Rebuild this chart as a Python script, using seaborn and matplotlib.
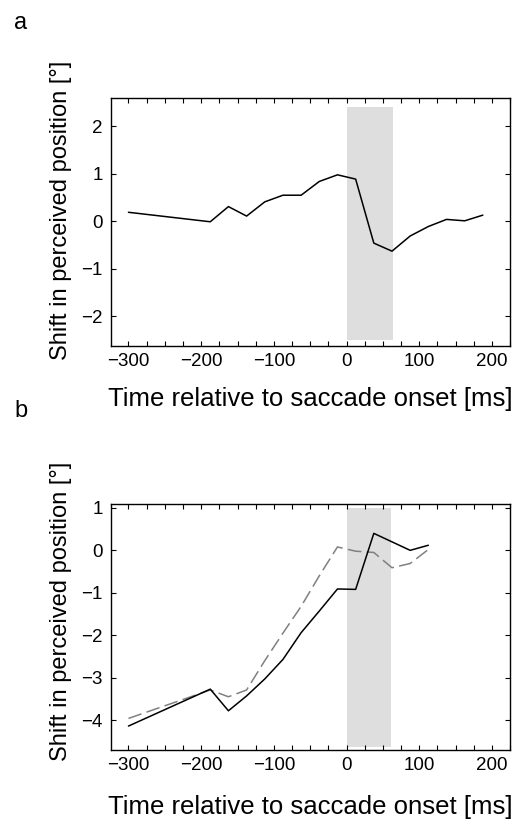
import numpy as np
import pandas as pd
import matplotlib
matplotlib.use("Agg")
import matplotlib.pyplot as plt
import seaborn as sns
from matplotlib.ticker import MultipleLocator

# ---- data ----
time_a = [-300, -187.5, -162.5, -137.5, -112.5, -87.5, -62.5, -37.5, -12.5,
          12.5, 37.5, 62.5, 87.5, 112.5, 137.5, 162.5, 187.5]
shift_a = [0.19, -0.01, 0.31, 0.11, 0.41, 0.55, 0.55, 0.84, 0.98,
           0.89, -0.46, -0.63, -0.31, -0.11, 0.04, 0.01, 0.13]

time_b = [-300, -187.5, -162.5, -137.5, -112.5, -87.5, -62.5, -37.5, -12.5,
          12.5, 37.5, 62.5, 87.5, 112.5]
shift_b_solid = [-4.14, -3.27, -3.78, -3.43, -3.03, -2.57, -1.94, -1.43, -0.91,
                 -0.92, 0.40, 0.20, 0.00, 0.12]
shift_b_dashed = [-3.96, -3.29, -3.45, -3.29, -2.60, -1.95, -1.32, -0.60, 0.08,
                  -0.02, -0.05, -0.41, -0.31, 0.02]

xticks = [-300, -200, -100, 0, 100, 200]
yticks_a = [-2, -1, 0, 1, 2]
yticks_b = [-4, -3, -2, -1, 0, 1]
xlabel = "Time relative to saccade onset [ms]"
ylabel = "Shift in perceived position [°]"

sns.set_style("white")
plt.rcParams['font.family'] = ['Liberation Sans', 'DejaVu Sans']
plt.rcParams['text.color'] = 'black'
plt.rcParams['axes.labelcolor'] = 'black'
plt.rcParams['xtick.color'] = 'black'
plt.rcParams['ytick.color'] = 'black'

fig = plt.figure(figsize=(5.2, 8.25), dpi=100)
ax_a = fig.add_axes([0.2135, 0.5806, 0.7675, 0.3006])
ax_b = fig.add_axes([0.2135, 0.0906, 0.7675, 0.2984])

df_a = pd.DataFrame({"t": time_a, "s": shift_a})
df_b1 = pd.DataFrame({"t": time_b, "s": shift_b_solid})
df_b2 = pd.DataFrame({"t": time_b, "s": shift_b_dashed})

# panel a
ax_a.fill_between([0, 64], -2.5, 2.4, color="#dedede", lw=0, zorder=0)
sns.lineplot(data=df_a, x="t", y="s", ax=ax_a, color="black", lw=1.1,
             estimator=None, sort=False)
ax_a.set_xlim(-324, 225)
ax_a.set_ylim(-2.63, 2.6)
ax_a.set_yticks(yticks_a)

# panel b
ax_b.fill_between([0, 61], -4.63, 1.0, color="#dedede", lw=0, zorder=0)
sns.lineplot(data=df_b2, x="t", y="s", ax=ax_b, color="#808080", lw=1.1,
             estimator=None, sort=False, dashes=False)
ax_b.lines[-1].set_dashes([9, 3.5])
sns.lineplot(data=df_b1, x="t", y="s", ax=ax_b, color="black", lw=1.1,
             estimator=None, sort=False)
ax_b.set_xlim(-324, 225)
ax_b.set_ylim(-4.71, 1.09)
ax_b.set_yticks(yticks_b)

for ax, xpad, ly in ((ax_a, 12, 0.545), (ax_b, 15, 0.565)):
    ax.set_xticks(xticks)
    ax.xaxis.set_minor_locator(MultipleLocator(25))
    ax.tick_params(axis="x", which="both", direction="in", top=True, bottom=True,
                   length=3.5, width=0.8, labelsize=13.5, pad=5)
    ax.tick_params(axis="y", which="major", direction="in", left=True, right=True,
                   length=3.5, width=0.8, labelsize=13.5, pad=6)
    for sp in ax.spines.values():
        sp.set_visible(True)
        sp.set_color("black")
        sp.set_linewidth(1.0)
    ax.set_xlabel(xlabel, fontsize=18.5, labelpad=xpad)
    ax.set_ylabel(ylabel, fontsize=17)
    ax.yaxis.set_label_coords(-0.098, ly)
    ax.set_facecolor("white")

fig.text(0.04, 0.985, "a", fontsize=17, va="top", ha="center")
fig.text(0.04, 0.515, "b", fontsize=17, va="top", ha="center")

fig.savefig("out.png", dpi=100, facecolor="white")
